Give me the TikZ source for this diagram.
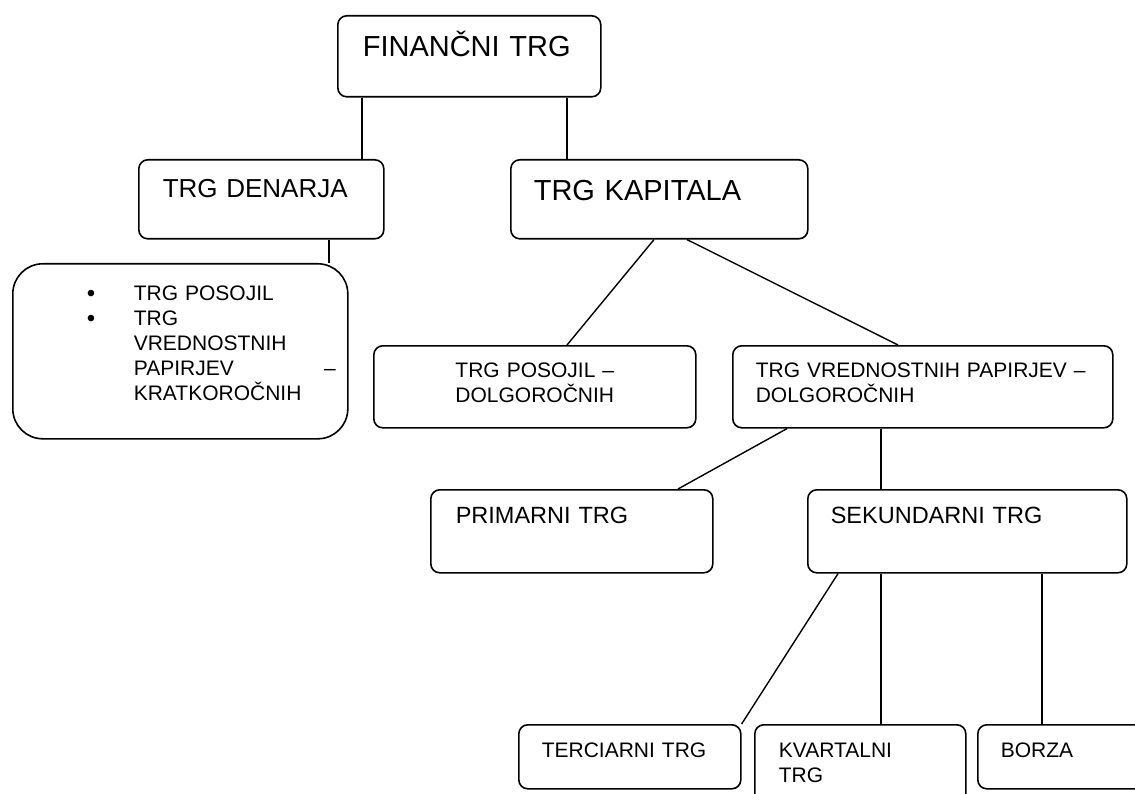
\documentclass[tikz,border=0pt]{standalone}
\usepackage{fontspec}
\setmainfont{Liberation Sans}
\begin{document}
\begin{tikzpicture}[x=1pt,y=-1pt,line width=1.4pt,
  box/.style={draw,line width=1.6pt,rounded corners=9pt,anchor=north west,inner ysep=0pt,align=left,font=\fontsize{21}{25}\selectfont},
  big/.style={font=\fontsize{29}{34}\selectfont},mid/.style={font=\fontsize{23.5}{28}\selectfont}]
\useasboundingbox (0,0) rectangle (1135,794);\clip (0,0) rectangle (1135,794);
\node[box,big,inner xsep=25pt,text width=213pt,text height=41pt,text depth=40pt] (fin) at (337,15) {FINANČNI TRG};
\node[box,font=\fontsize{26}{31}\selectfont,inner xsep=24pt,text width=197pt,text height=38pt,text depth=41pt] (den) at (138,159) {TRG DENARJA};
\node[box,big,inner xsep=23pt,text width=251pt,text height=41pt,text depth=38pt] (kap) at (510,159) {TRG KAPITALA};
\node[box,rounded corners=30pt,inner xsep=12pt,text width=311pt,text height=37pt,text depth=138pt] (lst) at (12,263) {\hspace*{62pt}\makebox[47pt][l]{\raisebox{-1pt}{\fontsize{24}{20}\selectfont\textbullet}}TRG POSOJIL\\\hspace*{62pt}\makebox[47pt][l]{\raisebox{-1pt}{\fontsize{24}{20}\selectfont\textbullet}}TRG\\\hspace*{109pt}VREDNOSTNIH\\\hspace*{109pt}PAPIRJEV\hfill–\hspace*{10pt}\\\hspace*{109pt}KRATKOROČNIH};
\node[box,align=center,inner xsep=20pt,text width=282pt,text height=32pt,text depth=50pt] (pos) at (373,345) {TRG POSOJIL –\\DOLGOROČNIH};
\node[box,inner xsep=23pt,text width=334pt,text height=32pt,text depth=50pt] (vp) at (732,345) {TRG VREDNOSTNIH PAPIRJEV –\\DOLGOROČNIH};
\node[box,mid,inner xsep=25pt,text width=232pt,text height=34pt,text depth=49pt] (prim) at (430,489) {PRIMARNI TRG};
\node[box,mid,inner xsep=23pt,text width=273pt,text height=34pt,text depth=49pt] (sek) at (807,489) {SEKUNDARNI TRG};
\node[box,inner xsep=23pt,text width=176pt,text height=33pt,text depth=31pt] (ter) at (518,724) {TERCIARNI TRG};
\node[box,inner xsep=24pt,text width=163pt,text height=33pt,text depth=60pt] (kva) at (754,724) {KVARTALNI\\TRG};
\node[box,inner xsep=23pt,text width=150pt,text height=33pt,text depth=31pt] (bor) at (977,724) {BORZA};
\draw ([xshift=25pt]fin.south west) -- ([xshift=25pt]fin.south west |- den.north);
\draw ([xshift=57pt]kap.north west |- fin.south) -- ([xshift=57pt]kap.north west);
\draw ([xshift=191pt]den.south west) -- ([xshift=191pt]den.south west |- lst.north);
\draw ([xshift=144pt]kap.south west) -- ([xshift=194pt]pos.north west);
\draw ([xshift=177pt]kap.south west) -- ([xshift=166pt]vp.north west);
\draw ([xshift=55pt]vp.south west) -- ([xshift=248pt]prim.north west);
\draw ([xshift=149pt]vp.south west) -- ([xshift=149pt]vp.south west |- sek.north);
\draw ([xshift=31pt]sek.south west) -- (ter.north east);
\draw ([xshift=74pt]sek.south west) -- ([xshift=74pt]sek.south west |- kva.north);
\draw ([xshift=235pt]sek.south west) -- ([xshift=235pt]sek.south west |- bor.north);
\end{tikzpicture}
\end{document}
